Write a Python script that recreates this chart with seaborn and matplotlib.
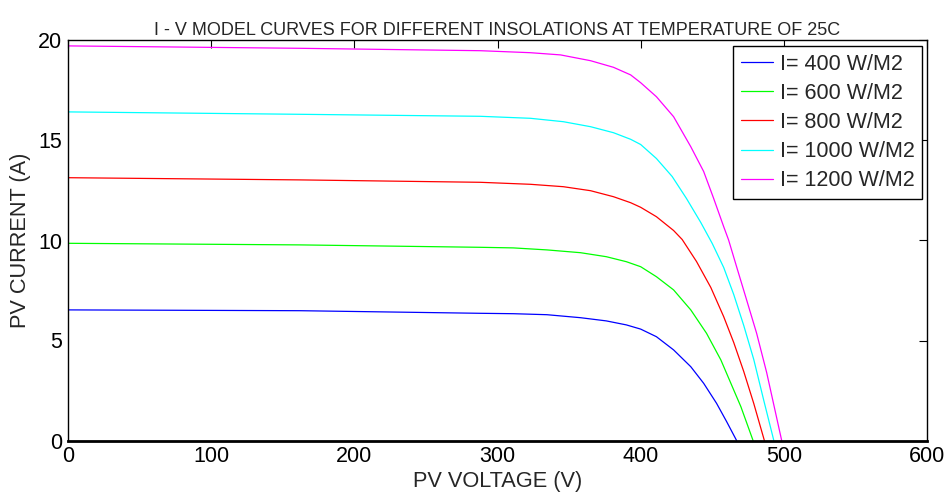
import matplotlib
matplotlib.use("Agg")
import matplotlib.pyplot as plt
import seaborn as sns
import pandas as pd

# Data
labels = ["I= 400 W/M2", "I= 600 W/M2", "I= 800 W/M2", "I= 1000 W/M2", "I= 1200 W/M2"]
colors = ["#0000ff", "#00ff00", "#ff0000", "#00ffff", "#ff00ff"]

v_400 = [0, 162, 288, 311, 334.5, 358, 376, 390, 400, 411, 423, 435, 444, 453, 460, 467]
i_400 = [6.53, 6.49, 6.36, 6.34, 6.29, 6.14, 5.98, 5.78, 5.57, 5.19, 4.53, 3.69, 2.86, 1.86, 0.95, 0.0]

v_600 = [0, 162, 288, 311, 334.5, 358, 376, 390, 400, 411, 423, 435, 446, 456, 463, 470, 478.5]
i_600 = [9.86, 9.78, 9.66, 9.63, 9.53, 9.39, 9.19, 8.94, 8.69, 8.19, 7.53, 6.53, 5.36, 4.03, 2.86, 1.69, 0.0]

v_800 = [0, 162, 288, 323, 346, 365, 381, 393, 400, 411, 423, 429, 439, 449, 458, 465, 472, 479, 486.4]
i_800 = [13.14, 13.03, 12.91, 12.81, 12.69, 12.49, 12.19, 11.89, 11.66, 11.19, 10.5, 10.05, 8.95, 7.65, 6.19, 4.9, 3.45, 1.85, 0.0]

v_1000 = [0, 162, 288, 323, 346, 365, 381, 393, 400, 411, 422, 432, 442, 450, 458, 465, 472, 479, 486, 493]
i_1000 = [16.43, 16.31, 16.21, 16.11, 15.94, 15.69, 15.39, 15.06, 14.8, 14.1, 13.2, 12.1, 10.9, 9.85, 8.65, 7.3, 5.75, 4.05, 2.0, 0.0]

v_1200 = [0, 162, 288, 323, 344, 365, 381, 393, 400, 411, 423, 435, 444, 451, 458, 461.4, 467, 474, 481, 488, 498.5]
i_1200 = [19.73, 19.61, 19.49, 19.39, 19.28, 18.99, 18.66, 18.28, 17.89, 17.19, 16.19, 14.69, 13.45, 12.1, 10.69, 10.03, 8.69, 7.03, 5.36, 3.4, 0.0]

x_ticks = [0, 100, 200, 300, 400, 500, 600]
y_ticks = [0, 5, 10, 15, 20]

series_v = [v_400, v_600, v_800, v_1000, v_1200]
series_i = [i_400, i_600, i_800, i_1000, i_1200]

rows = []
for lab, vs, cs in zip(labels, series_v, series_i):
    for v, c in zip(vs, cs):
        rows.append({"V": v, "I": c, "series": lab})
df = pd.DataFrame(rows)

sns.set_style("white")
plt.rcParams["font.family"] = ["Liberation Sans", "DejaVu Sans"]
plt.rcParams["xtick.direction"] = "in"
plt.rcParams["ytick.direction"] = "in"

fig = plt.figure(figsize=(9.53, 4.94), dpi=100)
ax = fig.add_axes([68 / 953, 1 - 440.5 / 494, 859 / 953, 400 / 494])

sns.lineplot(data=df, x="V", y="I", hue="series", hue_order=labels,
             palette=colors, sort=False, estimator=None, units="series",
             linewidth=0.9, ax=ax, legend=True)

ax.set_xlim(0, 600)
ax.set_ylim(0, 20)
ax.set_xticks(x_ticks)
ax.set_yticks(y_ticks)
ax.tick_params(axis="both", which="both", direction="in", length=6, width=0.8,
               top=True, right=True, labelsize=15.5, colors="black", pad=4)
for s in ax.spines.values():
    s.set_visible(True)
    s.set_color("black")
    s.set_linewidth(1.0)
ax.spines["bottom"].set_linewidth(2.0)

ax.set_xlabel("PV VOLTAGE (V)", fontsize=15.7, labelpad=3)
ax.set_ylabel("PV CURRENT (A)", fontsize=15.7, labelpad=5)
ax.set_title("I - V MODEL CURVES FOR DIFFERENT INSOLATIONS AT TEMPERATURE OF 25C",
             fontsize=13, pad=4)

leg = ax.legend(loc="upper right", bbox_to_anchor=(0.9942, 0.986), fontsize=15.5,
                frameon=True, fancybox=False, edgecolor="black", framealpha=1,
                handlelength=1.5, handletextpad=0.3, borderpad=0.35,
                labelspacing=0.38, borderaxespad=0.0)
leg.get_frame().set_linewidth(1.0)

fig.savefig("out.png", dpi=100)
